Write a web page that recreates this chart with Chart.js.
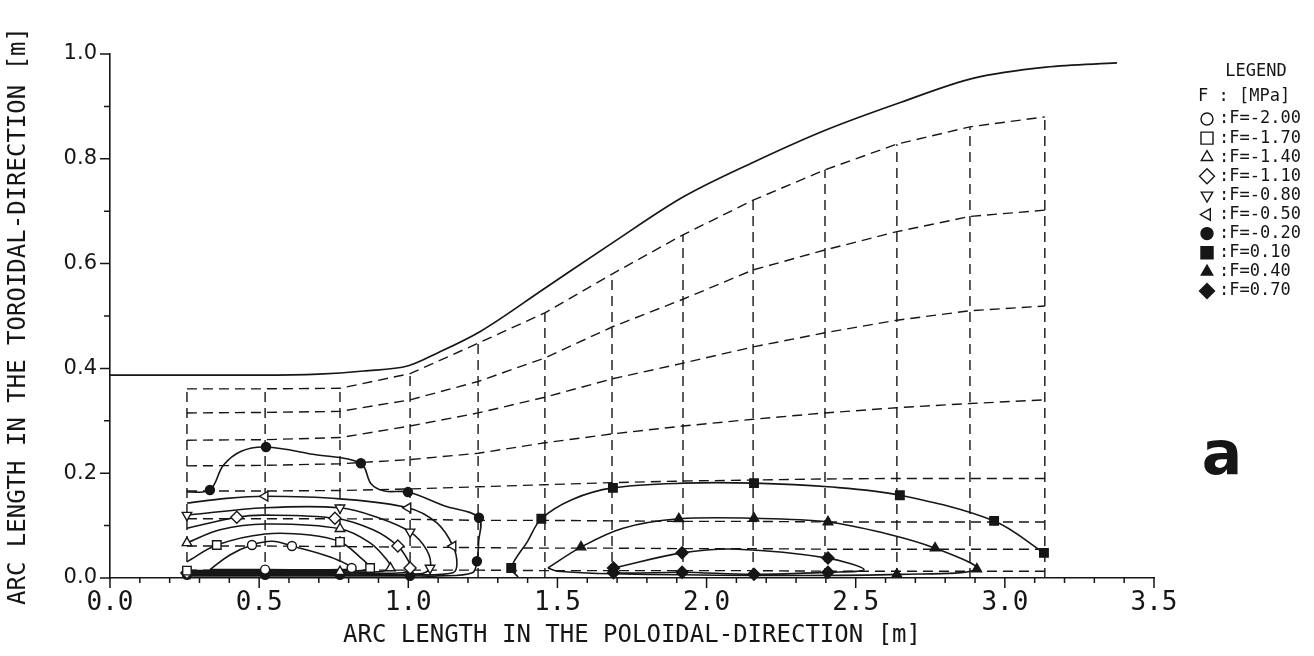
<!DOCTYPE html>
<html lang="en">
<head>
    <meta charset="UTF-8">
    <title>Stress contours - poloidal / toroidal arc length</title>
    <script src="https://cdn.jsdelivr.net/npm/chart.js"></script>
    <style>
        html, body {
            margin: 0;
            padding: 0;
            background: #fff;
        }
        .chart-wrapper {
            position: relative;
            width: 1314px;
            height: 656px;
        }
    </style>
</head>
<body>
<div class="chart-wrapper">
    <canvas id="myChart" width="1314" height="656"></canvas>
</div>

<script>
    // ---- data ----
    const xTicks = [0.0, 0.5, 1.0, 1.5, 2.0, 2.5, 3.0, 3.5];
    const yTicks = [0.0, 0.2, 0.4, 0.6, 0.8, 1.0];

    // outer solid boundary
    const outerX = [0, 0.5, 0.7, 0.85, 1.0, 1.1, 1.24, 1.458, 1.683, 1.921, 2.159, 2.4, 2.652, 2.896, 3.138, 3.376];
    const outerY = [0.387, 0.387, 0.389, 0.395, 0.405, 0.43, 0.47, 0.553, 0.639, 0.727, 0.794, 0.855, 0.908, 0.954, 0.975, 0.983];

    // dashed mesh: column positions and row heights at each column
    const meshCols = [0.258, 0.52, 0.771, 1.006, 1.234, 1.458, 1.683, 1.921, 2.156, 2.397, 2.638, 2.883, 3.134];
    const rowA = [0.361, 0.361, 0.362, 0.39, 0.448, 0.506, 0.58, 0.655, 0.721, 0.779, 0.828, 0.861, 0.88];
    const rowB = [0.315, 0.316, 0.318, 0.34, 0.375, 0.42, 0.479, 0.532, 0.588, 0.626, 0.661, 0.69, 0.702];
    const rowC = [0.263, 0.264, 0.268, 0.29, 0.315, 0.345, 0.38, 0.41, 0.441, 0.468, 0.492, 0.51, 0.519];
    const rowD = [0.214, 0.215, 0.218, 0.226, 0.238, 0.258, 0.275, 0.29, 0.303, 0.315, 0.325, 0.333, 0.34];
    const rowE = [0.166, 0.166, 0.167, 0.17, 0.174, 0.178, 0.182, 0.185, 0.187, 0.189, 0.19, 0.19, 0.19];
    const rowF = [0.113, 0.113, 0.113, 0.112, 0.11, 0.11, 0.109, 0.108, 0.108, 0.107, 0.107, 0.107, 0.107];
    const rowG = [0.061, 0.061, 0.06, 0.059, 0.058, 0.057, 0.057, 0.056, 0.056, 0.055, 0.055, 0.055, 0.055];
    const rowH = [0.015, 0.015, 0.015, 0.015, 0.015, 0.014, 0.014, 0.014, 0.014, 0.013, 0.013, 0.013, 0.013];

    // contour paths [x, y] and the node markers on them
    const pathM200 = [[0.335, 0.016], [0.402, 0.044], [0.476, 0.063], [0.545, 0.07], [0.61, 0.061], [0.738, 0.04], [0.81, 0.019], [0.771, 0.016], [0.52, 0.016], [0.335, 0.016]];
    const markM200 = [[0.476, 0.063], [0.61, 0.061], [0.81, 0.019], [0.52, 0.016]];

    const pathM170 = [[0.258, 0.031], [0.358, 0.063], [0.52, 0.084], [0.67, 0.082], [0.771, 0.069], [0.838, 0.04], [0.872, 0.019], [0.84, 0.014], [0.771, 0.014], [0.52, 0.014], [0.258, 0.014]];
    const markM170 = [[0.358, 0.063], [0.771, 0.069], [0.872, 0.019], [0.258, 0.014]];

    const pathM140 = [[0.258, 0.067], [0.369, 0.092], [0.52, 0.103], [0.771, 0.094], [0.872, 0.067], [0.929, 0.034], [0.94, 0.019], [0.9, 0.012], [0.771, 0.012], [0.52, 0.012], [0.258, 0.012]];
    const markM140 = [[0.258, 0.067], [0.771, 0.094], [0.94, 0.019], [0.771, 0.012]];

    const pathM110 = [[0.258, 0.095], [0.425, 0.116], [0.52, 0.12], [0.754, 0.114], [0.882, 0.092], [0.965, 0.061], [0.999, 0.034], [1.006, 0.019], [0.98, 0.01], [0.771, 0.01], [0.52, 0.01], [0.258, 0.01]];
    const markM110 = [[0.425, 0.116], [0.754, 0.114], [0.965, 0.061], [1.006, 0.019], [0.258, 0.01]];

    const pathM080 = [[0.258, 0.12], [0.52, 0.134], [0.771, 0.134], [0.895, 0.116], [1.006, 0.088], [1.062, 0.053], [1.073, 0.019], [1.04, 0.008], [0.771, 0.008], [0.52, 0.008], [0.258, 0.008]];
    const markM080 = [[0.258, 0.12], [0.771, 0.134], [1.006, 0.088], [1.073, 0.019]];

    const pathM050 = [[0.258, 0.143], [0.39, 0.152], [0.52, 0.156], [0.771, 0.151], [0.999, 0.134], [1.096, 0.105], [1.15, 0.061], [1.163, 0.028], [1.15, 0.01], [1.0, 0.006], [0.771, 0.006], [0.52, 0.006], [0.258, 0.006]];
    const markM050 = [[0.52, 0.156], [0.999, 0.134], [1.15, 0.061], [0.258, 0.008]];

    const pathM020 = [[0.258, 0.164], [0.335, 0.168], [0.38, 0.215], [0.44, 0.242], [0.523, 0.25], [0.68, 0.236], [0.841, 0.219], [0.875, 0.18], [0.92, 0.166], [0.999, 0.164], [1.12, 0.138], [1.237, 0.115], [1.236, 0.07], [1.23, 0.032], [1.215, 0.01], [1.1, 0.004], [1.006, 0.004], [0.771, 0.004], [0.52, 0.004], [0.258, 0.004]];
    const markM020 = [[0.335, 0.168], [0.523, 0.25], [0.841, 0.219], [0.999, 0.164], [1.237, 0.115], [1.23, 0.032], [1.006, 0.004], [0.52, 0.006], [0.771, 0.006], [0.258, 0.006]];

    const pathP010 = [[1.368, 0.002], [1.345, 0.019], [1.40, 0.07], [1.446, 0.113], [1.55, 0.15], [1.686, 0.172], [1.925, 0.181], [2.159, 0.181], [2.407, 0.174], [2.648, 0.158], [2.964, 0.109], [3.131, 0.048]];
    const markP010 = [[1.345, 0.019], [1.446, 0.113], [1.686, 0.172], [2.159, 0.181], [2.648, 0.158], [2.964, 0.109], [3.131, 0.048]];

    const pathP040 = [[1.468, 0.019], [1.579, 0.059], [1.72, 0.095], [1.907, 0.113], [2.159, 0.114], [2.407, 0.107], [2.6, 0.085], [2.766, 0.057], [2.906, 0.017], [2.65, 0.007], [2.159, 0.005], [1.688, 0.008], [1.50, 0.013], [1.468, 0.019]];
    const markP040 = [[1.579, 0.059], [1.907, 0.113], [2.159, 0.114], [2.407, 0.107], [2.766, 0.057], [2.906, 0.017], [2.638, 0.007]];

    const pathP070 = [[1.688, 0.019], [1.918, 0.048], [2.105, 0.055], [2.407, 0.038], [2.528, 0.016], [2.407, 0.011], [2.159, 0.007], [1.918, 0.011], [1.688, 0.01], [1.688, 0.019]];
    const markP070 = [[1.688, 0.019], [1.918, 0.048], [2.407, 0.038], [2.407, 0.011], [2.159, 0.007], [1.918, 0.011], [1.688, 0.01]];

    const legendLabels = [':F=-2.00', ':F=-1.70', ':F=-1.40', ':F=-1.10', ':F=-0.80', ':F=-0.50', ':F=-0.20', ':F=0.10', ':F=0.40', ':F=0.70'];

    // ---- styles ----
    const ink = '#161616';
    const markerStyles = [
        {style: 'circle', rot: 0, filled: false, r: 4.5},
        {style: 'rect', rot: 0, filled: false, r: 6},
        {style: 'triangle', rot: 0, filled: false, r: 5.5},
        {style: 'rectRot', rot: 0, filled: false, r: 6},
        {style: 'triangle', rot: 180, filled: false, r: 5.5},
        {style: 'triangle', rot: 270, filled: false, r: 5.5},
        {style: 'circle', rot: 0, filled: true, r: 4.5},
        {style: 'rect', rot: 0, filled: true, r: 6},
        {style: 'triangle', rot: 0, filled: true, r: 5.5},
        {style: 'rectRot', rot: 0, filled: true, r: 6}
    ];
    const contourPaths = [pathM200, pathM170, pathM140, pathM110, pathM080, pathM050, pathM020, pathP010, pathP040, pathP070];
    const contourMarks = [markM200, markM170, markM140, markM110, markM080, markM050, markM020, markP010, markP040, markP070];

    const toPts = arr => arr.map(p => ({x: p[0], y: p[1]}));

    const datasets = [];

    // markers on top
    contourMarks.forEach((marks, i) => {
        const s = markerStyles[i];
        datasets.push({
            label: legendLabels[i] + ' nodes',
            data: toPts(marks),
            showLine: false,
            pointStyle: s.style,
            rotation: s.rot,
            pointRadius: s.r,
            pointBorderWidth: 1.4,
            pointBorderColor: ink,
            pointBackgroundColor: s.filled ? ink : '#fff',
            clip: false,
            order: 0
        });
    });

    contourPaths.forEach((path, i) => {
        datasets.push({
            label: legendLabels[i],
            data: toPts(path),
            showLine: true,
            borderColor: ink,
            borderWidth: 1.6,
            pointRadius: 0,
            tension: 0.35,
            fill: false,
            clip: false,
            order: 1
        });
    });

    datasets.push({
        label: 'boundary',
        data: outerX.map((x, i) => ({x: x, y: outerY[i]})),
        showLine: true,
        borderColor: ink,
        borderWidth: 1.7,
        pointRadius: 0,
        cubicInterpolationMode: 'monotone',
        fill: false,
        order: 2
    });

    [rowA, rowB, rowC, rowD, rowE, rowF, rowG, rowH].forEach((row, r) => {
        datasets.push({
            label: 'mesh row ' + r,
            data: meshCols.map((x, i) => ({x: x, y: row[i]})),
            showLine: true,
            borderColor: ink,
            borderWidth: 1.4,
            borderDash: [10, 6],
            pointRadius: 0,
            tension: 0,
            fill: false,
            order: 3
        });
    });

    meshCols.forEach((x, i) => {
        datasets.push({
            label: 'mesh col ' + i,
            data: [{x: x, y: 0}, {x: x, y: rowA[i]}],
            showLine: true,
            borderColor: ink,
            borderWidth: 1.4,
            borderDash: [10, 6],
            pointRadius: 0,
            fill: false,
            order: 3
        });
    });

    // minor/major tick marks drawn outward like the plotter output
    const tickMarks = {
        id: 'tickMarks',
        afterDraw(chart) {
            const {ctx, scales: {x, y}} = chart;
            ctx.save();
            ctx.strokeStyle = ink;
            ctx.lineWidth = 1.5;
            ctx.beginPath();
            for (let i = 0; i <= 35; i++) {
                const px = x.getPixelForValue(i / 10);
                const len = i % 5 === 0 ? 10 : 5;
                ctx.moveTo(px, y.bottom);
                ctx.lineTo(px, y.bottom + len);
            }
            for (let i = 0; i <= 10; i++) {
                const py = y.getPixelForValue(i / 10);
                const len = i % 2 === 0 ? 10 : 6;
                ctx.moveTo(x.left, py);
                ctx.lineTo(x.left - len, py);
            }
            ctx.stroke();
            ctx.restore();
        }
    };

    function drawMark(ctx, s, cx, cy, r) {
        ctx.beginPath();
        if (s.style === 'circle') {
            ctx.arc(cx, cy, r, 0, Math.PI * 2);
        } else if (s.style === 'rect') {
            ctx.rect(cx - r, cy - r, 2 * r, 2 * r);
        } else if (s.style === 'rectRot') {
            ctx.moveTo(cx, cy - r * 1.25);
            ctx.lineTo(cx + r * 1.25, cy);
            ctx.lineTo(cx, cy + r * 1.25);
            ctx.lineTo(cx - r * 1.25, cy);
            ctx.closePath();
        } else {
            const a0 = (s.rot - 90) * Math.PI / 180;
            for (let k = 0; k < 3; k++) {
                const a = a0 + k * 2 * Math.PI / 3;
                const px = cx + r * 1.1 * Math.cos(a);
                const py = cy + r * 1.1 * Math.sin(a);
                if (k === 0) ctx.moveTo(px, py); else ctx.lineTo(px, py);
            }
            ctx.closePath();
        }
        ctx.fillStyle = s.filled ? ink : '#fff';
        ctx.fill();
        ctx.stroke();
    }

    const legendBox = {
        id: 'legendBox',
        afterDraw(chart) {
            const ctx = chart.ctx;
            ctx.save();
            ctx.fillStyle = ink;
            ctx.strokeStyle = ink;
            ctx.lineWidth = 1.4;
            ctx.font = '17px "DejaVu Sans Mono"';
            ctx.textBaseline = 'middle';
            ctx.textAlign = 'center';
            ctx.fillText('LEGEND', 1256, 72);
            ctx.textAlign = 'left';
            ctx.fillText('F : [MPa]', 1198, 97);
            legendLabels.forEach((lab, i) => {
                const yy = 119 + i * 19.1;
                drawMark(ctx, markerStyles[i], 1207, yy, 6);
                ctx.fillStyle = ink;
                ctx.fillText(lab, 1219, yy);
            });
            ctx.font = 'bold 60px "DejaVu Sans"';
            ctx.textAlign = 'center';
            ctx.fillText('a', 1222, 458);
            ctx.restore();
        }
    };

    const config = {
        type: 'scatter',
        data: {datasets: datasets},
        options: {
            responsive: false,
            animation: false,
            devicePixelRatio: 1,
            layout: {padding: {left: 0, right: 160, top: 54, bottom: 0}},
            plugins: {
                legend: {display: false},
                tooltip: {enabled: false}
            },
            scales: {
                x: {
                    type: 'linear',
                    min: 0,
                    max: 3.5,
                    afterFit: scale => { scale.height = 78; },
                    afterBuildTicks: scale => { scale.ticks = xTicks.map(v => ({value: v})); },
                    border: {display: true, color: ink, width: 1.6},
                    grid: {drawOnChartArea: false, drawTicks: false},
                    ticks: {
                        padding: 10,
                        color: ink,
                        font: {family: 'DejaVu Sans Mono', size: 26},
                        callback: v => v.toFixed(1)
                    },
                    title: {
                        display: true,
                        text: 'ARC LENGTH IN THE POLOIDAL-DIRECTION [m]',
                        color: ink,
                        font: {family: 'DejaVu Sans Mono', size: 24},
                        padding: {top: 0, bottom: 6}
                    }
                },
                y: {
                    type: 'linear',
                    min: 0,
                    max: 1.0,
                    afterFit: scale => { scale.width = 110; },
                    afterBuildTicks: scale => { scale.ticks = yTicks.map(v => ({value: v})); },
                    border: {display: true, color: ink, width: 1.6},
                    grid: {drawOnChartArea: false, drawTicks: false},
                    ticks: {
                        padding: 13,
                        color: ink,
                        font: {family: 'DejaVu Sans', size: 21},
                        callback: v => v.toFixed(1)
                    },
                    title: {
                        display: true,
                        text: 'ARC LENGTH IN THE TOROIDAL-DIRECTION [m]',
                        color: ink,
                        font: {family: 'DejaVu Sans Mono', size: 24},
                        padding: {top: 4, bottom: 0}
                    }
                }
            }
        },
        plugins: [tickMarks, legendBox]
    };

    const myChart = new Chart(document.getElementById('myChart'), config);
</script>
</body>
</html>
